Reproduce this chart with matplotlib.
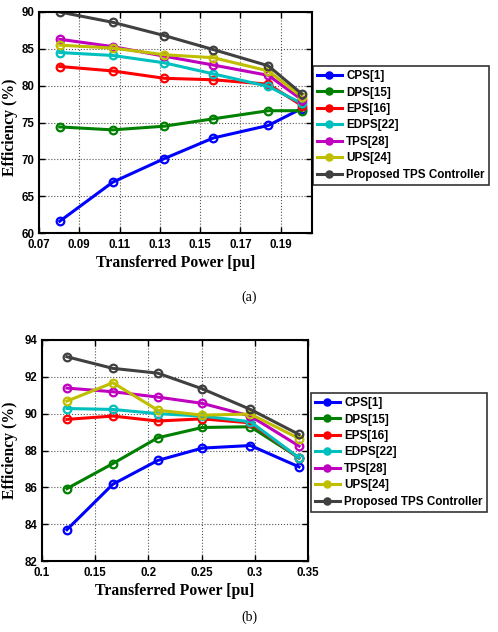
import numpy as np
import matplotlib
matplotlib.use("Agg")
from matplotlib import pyplot as plt

# (a)
power_a = [0.0803, 0.1066, 0.1322, 0.1565, 0.1838, 0.2004]
cps_a = [61.6, 66.9, 70.1, 72.9, 74.6, 76.9]
dps_a = [74.4, 74.0, 74.5, 75.5, 76.6, 76.6]
eps_a = [82.6, 82.0, 81.0, 80.8, 80.2, 77.3]
edps_a = [84.5, 84.1, 83.1, 81.6, 79.9, 77.6]
tps_a = [86.3, 85.3, 84.0, 82.8, 81.4, 78.1]
ups_a = [85.5, 85.1, 84.2, 83.8, 82.0, 78.5]
prop_a = [90.0, 88.6, 86.8, 84.9, 82.7, 78.9]

# (b)
power_b = [0.1234, 0.1666, 0.2088, 0.2506, 0.2959, 0.3416]
cps_b = [83.70, 86.17, 87.46, 88.13, 88.27, 87.11]
dps_b = [85.93, 87.29, 88.69, 89.25, 89.29, 87.60]
eps_b = [89.69, 89.87, 89.60, 89.72, 89.50, 87.58]
edps_b = [90.28, 90.23, 90.00, 89.87, 89.56, 87.60]
tps_b = [91.39, 91.19, 90.90, 90.56, 89.87, 88.24]
ups_b = [90.68, 91.68, 90.19, 89.92, 89.98, 88.65]
prop_b = [93.09, 92.46, 92.20, 91.35, 90.23, 88.87]

names = ["CPS[1]", "DPS[15]", "EPS[16]", "EDPS[22]", "TPS[28]", "UPS[24]",
         "Proposed TPS Controller"]
colors = ["#0000ff", "#008000", "#ff0000", "#00bfbf", "#bf00bf", "#bfbf00", "#404040"]

fig = plt.figure(figsize=(4.98, 6.32), dpi=100)
W, H = 498, 632

def make_axes(l, r, t, b):
    return fig.add_axes([l / W, 1 - b / H, (r - l) / W, (b - t) / H])

tickfont = dict(family="Liberation Sans", weight="bold", size=8.3)
labelfont = dict(family="Liberation Serif", weight="bold", size=11.3)

def draw(ax, x, series, xlim, xticks, ylim, yticks, xfmt, leg_box, ylab_y):
    for ys, name, c in zip(series, names, colors):
        ax.plot(x, ys, color=c, lw=2.2, marker="o", ms=5.5, mew=1.6,
                mfc="none", label=name)
    ax.set_xlim(*xlim)
    ax.set_ylim(*ylim)
    ax.set_xticks(xticks)
    ax.set_yticks(yticks)
    ax.set_xticklabels([xfmt(v) for v in xticks], fontdict=tickfont)
    ax.set_yticklabels([str(v) for v in yticks], fontdict=tickfont)
    ax.grid(True, color="#555555", ls=":", lw=0.8)
    ax.tick_params(direction="in", top=True, right=True, length=4, width=1)
    ax.tick_params(axis="x", pad=4)
    ax.tick_params(axis="y", pad=3)
    for s in ax.spines.values():
        s.set_linewidth(1.5)
    ax.set_xlabel("Transferred Power [pu]", fontdict=labelfont, labelpad=3)
    ax.set_ylabel("Efficiency (%)", fontdict=labelfont)
    ax.yaxis.set_label_coords(18 / W, 1 - ylab_y / H, transform=fig.transFigure)
    leg = ax.legend(loc="upper left", bbox_to_anchor=leg_box, bbox_transform=fig.transFigure,
                    prop=dict(family="Liberation Sans", weight="bold", size=8.4),
                    frameon=True, fancybox=False, edgecolor="black", handlelength=2.1,
                    handletextpad=0.4, borderpad=0.35, labelspacing=0.38, borderaxespad=0)
    for h in leg.legend_handles:
        h.set_markerfacecolor(h.get_color())
        h.set_markersize(4.5)
    leg.get_frame().set_linewidth(1.2)

ax1 = make_axes(39, 312, 12, 233)
draw(ax1, power_a, [cps_a, dps_a, eps_a, edps_a, tps_a, ups_a, prop_a],
     (0.07, 0.2055), [0.07, 0.09, 0.11, 0.13, 0.15, 0.17, 0.19],
     (60, 90), [60, 65, 70, 75, 80, 85, 90], lambda v: f"{v:.2f}",
     (313 / W, 1 - 66 / H), 127)

ax2 = make_axes(42, 308, 340, 561)
draw(ax2, power_b, [cps_b, dps_b, eps_b, edps_b, tps_b, ups_b, prop_b],
     (0.1, 0.35), [0.1, 0.15, 0.2, 0.25, 0.3, 0.35],
     (82, 94), [82, 84, 86, 88, 90, 92, 94], lambda v: f"{v:g}",
     (311 / W, 1 - 393 / H), 450)

fig.text(249 / W, 1 - 297 / H, "(a)", ha="center", va="center",
         family="Liberation Serif", size=10)
fig.text(249 / W, 1 - 617 / H, "(b)", ha="center", va="center",
         family="Liberation Serif", size=10)

fig.savefig("out.png", dpi=100)
